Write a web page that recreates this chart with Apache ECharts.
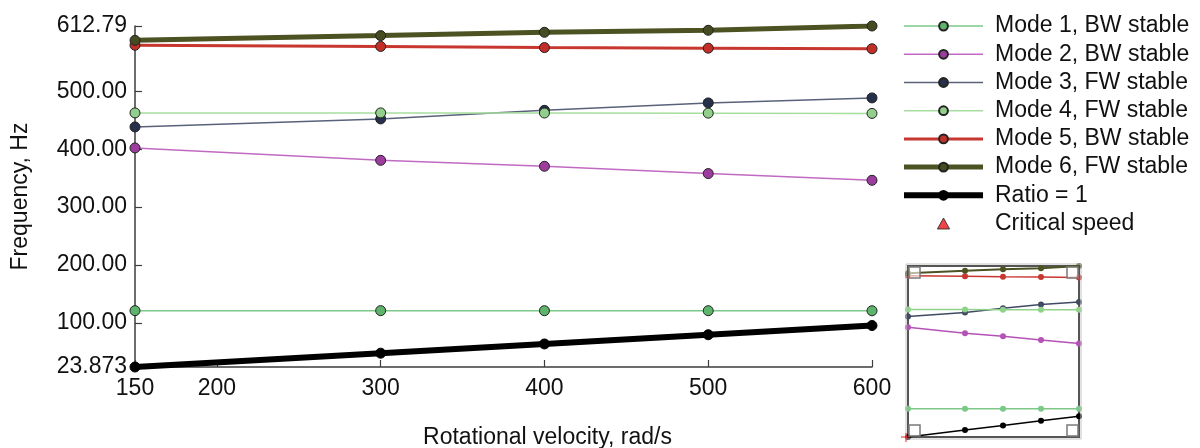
<!DOCTYPE html>
<html>
<head>
<meta charset="utf-8">
<script src="https://cdn.jsdelivr.net/npm/echarts@6/dist/echarts.min.js"></script>
<style>
  html, body { margin: 0; padding: 0; background: #fff; }
  #chart { width: 1200px; height: 448px; }
</style>
</head>
<body>
<div id="chart"></div>
<script>
// Rotational speeds (rad/s) at which the modes were evaluated
const speeds = [150, 300, 400, 500, 600];

// Natural frequencies (Hz) for each whirl mode
const mode1 = [121.2, 121.2, 121.1, 121.1, 121.0];
const mode2 = [402.2, 380.8, 370.5, 357.9, 346.3];
const mode3 = [438.5, 452.3, 467.2, 480.0, 488.6];
const mode4 = [462.7, 462.7, 462.5, 462.3, 461.8];
const mode5 = [579.5, 577.5, 575.5, 574.5, 573.5];
const mode6 = [588.0, 596.2, 601.9, 605.4, 612.79];
// Excitation line, frequency equal to shaft speed
const ratioOne = [23.873, 47.746, 63.662, 79.577, 95.493];

// Axis tick positions and their printed labels
const xTicks = [150, 200, 300, 400, 500, 600];
const yTicks = [23.873, 100, 200, 300, 400, 500, 612.79];
const yTickLabels = ['23.873', '100.00', '200.00', '300.00', '400.00', '500.00', '612.79'];

const seriesNames = [
  'Mode 1, BW stable', 'Mode 2, BW stable', 'Mode 3, FW stable',
  'Mode 4, FW stable', 'Mode 5, BW stable', 'Mode 6, FW stable',
  'Ratio = 1', 'Critical speed'
];

const FONT = 'Liberation Sans, Arial, sans-serif';

function pairs(ys) { return speeds.map((x, i) => [x, ys[i]]); }

const styles = [
  { data: mode1, line: '#7cc887', fill: '#5fb46d', width: 1.5, mini: '#7cc887' },
  { data: mode2, line: '#c16ac3', fill: '#9c3d9e', width: 1.5, mini: '#b452b6' },
  { data: mode3, line: '#59627a', fill: '#27304a', width: 1.5, mini: '#404a63' },
  { data: mode4, line: '#a6de9e', fill: '#92cf8c', width: 1.5, mini: '#8fd38a' },
  { data: mode5, line: '#c8372f', fill: '#c22f28', width: 3, mini: '#c8372f' },
  { data: mode6, line: '#4d5222', fill: '#474b22', width: 5, mini: '#4d5222' }
];

const series = [];
// Main plot
styles.forEach((s, i) => {
  series.push({
    name: seriesNames[i], type: 'line', xAxisIndex: 0, yAxisIndex: 0,
    data: pairs(s.data), symbol: 'circle', symbolSize: 10, showSymbol: true,
    lineStyle: { color: s.line, width: s.width },
    itemStyle: { color: s.fill, borderColor: '#222', borderWidth: 1 },
    emphasis: { disabled: true }, z: 3 + i
  });
});
series.push({
  name: seriesNames[6], type: 'line', xAxisIndex: 0, yAxisIndex: 0,
  data: pairs(ratioOne), symbol: 'circle', symbolSize: 10,
  lineStyle: { color: '#000', width: 6 },
  itemStyle: { color: '#000', borderColor: '#000', borderWidth: 1 },
  emphasis: { disabled: true }, z: 10
});
series.push({
  name: seriesNames[7], type: 'scatter', xAxisIndex: 0, yAxisIndex: 0,
  data: [], symbol: 'triangle', symbolSize: 12,
  itemStyle: { color: '#e8141b', borderColor: '#222', borderWidth: 1 }
});

// Overview thumbnail
styles.forEach((s, i) => {
  series.push({
    name: seriesNames[i], type: 'line', xAxisIndex: 1, yAxisIndex: 1,
    data: pairs(s.data), symbol: 'circle', symbolSize: 6, showSymbol: true,
    lineStyle: { color: s.mini, width: i === 5 ? 2 : 1.5 },
    itemStyle: { color: s.mini },
    emphasis: { disabled: true }, legendHoverLink: false, z: 3 + i
  });
});
series.push({
  name: seriesNames[6], type: 'line', xAxisIndex: 1, yAxisIndex: 1,
  data: pairs(ratioOne), symbol: 'circle', symbolSize: 6,
  lineStyle: { color: '#000', width: 1.5 },
  itemStyle: { color: '#000' },
  emphasis: { disabled: true }, z: 10
});

// Legend entries carry the same stroke weights as their curves
const legendItems = seriesNames.map((name, i) => {
  if (i < 6) return { name, lineStyle: { width: styles[i].width, color: styles[i].line } };
  if (i === 6) return { name, lineStyle: { width: 6, color: '#000' } };
  return { name, icon: 'path://M5,0L10,9L0,9Z', itemStyle: { color: '#e8141b', borderColor: '#222', borderWidth: 1 } };
});

const axisColor = '#3c3c3c';

const option = {
  animation: false,
  backgroundColor: '#fff',
  grid: [
    { left: 135, right: 328, top: 26, bottom: 81, containLabel: false, outerBoundsMode: 'none' },
    { left: 908, top: 266, width: 171, height: 171, show: true, borderColor: '#555', borderWidth: 2,
      containLabel: false, outerBoundsMode: 'none' }
  ],
  legend: {
    data: legendItems,
    orient: 'vertical',
    left: 901, top: 12, padding: 0,
    itemWidth: 79, itemHeight: 11, itemGap: 0,
    symbolKeepAspect: true,
    selectedMode: false,
    textStyle: { fontFamily: FONT, fontSize: 23, color: '#111', lineHeight: 28.2, padding: [0, 0, 0, 7] }
  },
  xAxis: [
    {
      type: 'value', gridIndex: 0, min: 150, max: 600,
      name: 'Rotational velocity, rad/s', nameLocation: 'middle', nameGap: 59,
      nameTextStyle: { fontFamily: FONT, fontSize: 23, color: '#111', padding: [0, 0, 0, 88] },
      axisLine: { show: true, onZero: false, lineStyle: { color: axisColor, width: 1.5 } },
      axisTick: { show: true, inside: true, length: 7, customValues: xTicks, lineStyle: { color: axisColor, width: 1.2 } },
      axisLabel: { customValues: xTicks, fontFamily: FONT, fontSize: 23, color: '#111', margin: 10 },
      splitLine: { show: false }
    },
    {
      type: 'value', gridIndex: 1, min: 150, max: 600,
      axisLine: { show: false }, axisTick: { show: false }, axisLabel: { show: false }, splitLine: { show: false }
    }
  ],
  yAxis: [
    {
      type: 'value', gridIndex: 0, min: yTicks[0], max: yTicks[yTicks.length - 1],
      name: 'Frequency, Hz', nameLocation: 'middle', nameGap: 103, nameRotate: 90,
      nameTextStyle: { fontFamily: FONT, fontSize: 23, color: '#111' },
      axisLine: { show: true, onZero: false, lineStyle: { color: axisColor, width: 1.5 } },
      axisTick: { show: true, inside: true, length: 7, customValues: yTicks, lineStyle: { color: axisColor, width: 1.2 } },
      axisLabel: {
        customValues: yTicks, fontFamily: FONT, fontSize: 23, color: '#111', margin: 8,
        formatter: v => {
          const k = yTicks.findIndex(t => Math.abs(t - v) < 1e-6);
          return k >= 0 ? yTickLabels[k] : '';
        }
      },
      splitLine: { show: false }
    },
    {
      type: 'value', gridIndex: 1, min: yTicks[0], max: yTicks[yTicks.length - 1],
      axisLine: { show: false }, axisTick: { show: false }, axisLabel: { show: false }, splitLine: { show: false }
    }
  ],
  series: series,
  graphic: [
    // outer halo of the overview frame
    { type: 'rect', shape: { x: 906, y: 264, width: 175, height: 175 }, style: { fill: 'none', stroke: '#c4c4c4', lineWidth: 1 }, z: 20 },
    // resize handles in the overview corners
    { type: 'rect', shape: { x: 909, y: 267, width: 11, height: 11 }, style: { fill: 'rgba(255,255,255,0.6)', stroke: '#7a7a7a', lineWidth: 1.5 }, z: 20 },
    { type: 'rect', shape: { x: 1067, y: 267, width: 11, height: 11 }, style: { fill: 'rgba(255,255,255,0.6)', stroke: '#7a7a7a', lineWidth: 1.5 }, z: 20 },
    { type: 'rect', shape: { x: 909, y: 425, width: 11, height: 11 }, style: { fill: 'rgba(255,255,255,0.6)', stroke: '#7a7a7a', lineWidth: 1.5 }, z: 20 },
    { type: 'rect', shape: { x: 1067, y: 425, width: 11, height: 11 }, style: { fill: 'rgba(255,255,255,0.6)', stroke: '#7a7a7a', lineWidth: 1.5 }, z: 20 },
    // cursor cross at the overview origin
    { type: 'line', shape: { x1: 901, y1: 437, x2: 910, y2: 437 }, style: { stroke: '#e02020', lineWidth: 1 }, z: 21 },
    { type: 'line', shape: { x1: 906, y1: 433, x2: 906, y2: 442 }, style: { stroke: '#e02020', lineWidth: 1 }, z: 21 }
  ]
};

const chart = echarts.init(document.getElementById('chart'), null, { renderer: 'canvas' });
chart.setOption(option);
</script>
</body>
</html>
